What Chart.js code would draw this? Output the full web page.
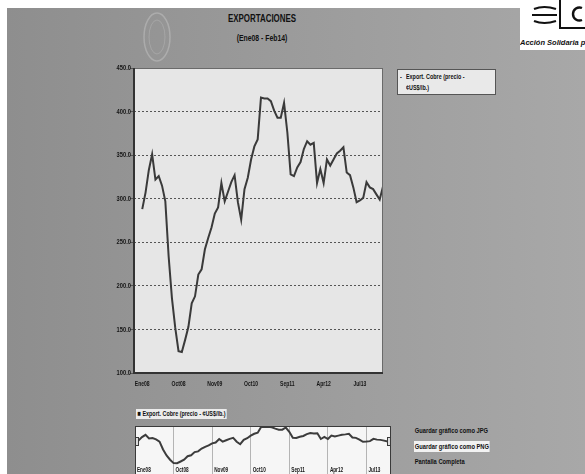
<!DOCTYPE html>
<html>
<head>
<meta charset="utf-8">
<script src="https://cdn.jsdelivr.net/npm/chart.js@4.4.1/dist/chart.umd.min.js"></script>
<style>
body{margin:0;width:585px;height:474px;overflow:hidden;background:#fff;position:relative;
  font-family:"Liberation Sans",Arial,sans-serif;font-weight:bold;color:#111}
#panel{position:absolute;left:7px;top:8px;width:578px;height:466px;
  background:linear-gradient(90deg,#8e8e8e,#9a9a9a 45%,#a8a8a8)}
#logo{position:absolute;left:520px;top:0;width:65px;height:50px;background:#fff;overflow:hidden}
#logo span{position:absolute;left:0;top:38px;font-size:7.5px;font-style:italic;white-space:nowrap}
#seal{position:absolute;left:142px;top:11px}
.t{position:absolute;white-space:nowrap;transform:scaleX(0.72);transform-origin:left center}
#title{left:200px;width:124px;top:12px;text-align:center;font-size:11px;transform-origin:center}
#sub{left:200px;width:124px;top:32px;text-align:center;font-size:9.5px;transform-origin:center}
#legend{position:absolute;left:397px;top:69px;width:97px;height:24px;background:#e9e9e9;border:1px solid #555;
  font-size:7.5px;line-height:11px}
#legend .t{top:1px}
#navlegend{left:136px;top:409px;font-size:7.5px;background:#ececec;padding:0 2px;line-height:10px}
.link{left:414px;font-size:8px;line-height:11px;padding:0 1px}
canvas{position:absolute}
</style>
</head>
<body>
<div id="panel"></div>
<div id="logo">
  <svg width="65" height="38">
    <path d="M14 9 Q24 5 36 9 M12 15 L37 15 M14 21 Q24 25 36 21" stroke="#111" stroke-width="2.2" fill="none"/>
    <rect x="40" y="-2" width="30" height="30" fill="none" stroke="#111" stroke-width="2"/>
    <path d="M62 8 A6.5 6.5 0 1 0 62 20" stroke="#111" stroke-width="2.4" fill="none"/>
  </svg>
  <span>Acción Solidaria para el Desarrollo</span>
</div>
<svg id="seal" width="32" height="54">
  <ellipse cx="15" cy="26" rx="13" ry="24" fill="none" stroke="rgba(255,255,255,0.22)" stroke-width="1.5"/>
  <ellipse cx="15" cy="26" rx="8" ry="17" fill="none" stroke="rgba(255,255,255,0.15)" stroke-width="1"/>
</svg>
<div class="t" id="title">EXPORTACIONES</div>
<div class="t" id="sub">(Ene08 - Feb14)</div>

<canvas id="main" width="585" height="400" style="left:0;top:0"></canvas>
<div id="legend"></div>

<div class="t" id="navlegend"></div>
<canvas id="nav" width="256" height="60" style="left:135px;top:426px"></canvas>

<div class="t link" style="top:425px">Guardar gráfico como JPG</div>
<div class="t link" style="top:441px;background:#f2f2f2">Guardar gráfico como PNG</div>
<div class="t link" style="top:456px">Pantalla Completa</div>

<script>
// precio del cobre, mensual Ene08 - Feb14
const seriesLabel = 'Export. Cobre (precio - ¢US$/lb.)';
const copper = [
  288, 307, 333, 351, 322, 326, 315, 297, 234, 186, 152, 125,
  124, 138, 153, 180, 188, 213, 219, 242, 255, 267, 283, 290,
  318, 297, 308, 319, 327, 296, 276, 311, 324, 345, 360, 368,
  416, 415, 415, 412, 401, 393, 393, 410, 376, 328, 326, 336,
  342, 357, 366, 362, 364, 318, 334, 318, 345, 338, 345, 352,
  355, 359, 330, 327, 313, 296, 298, 301, 319, 313, 311, 305,
  299, 314
];
const tickPos = [0, 11, 22, 33, 44, 55, 66];
const tickLabels = ['Ene08', 'Oct08', 'Nov09', 'Oct10', 'Sep11', 'Apr12', 'Jul13'];
const yTicks = [100, 150, 200, 250, 300, 350, 400, 450];

const points = copper.map((v, i) => ({x: i, y: v}));

// narrow bold text: Liberation Sans squeezed to look like Arial Narrow
function narrow(g, text, x, y, align, size) {
  g.save();
  g.font = 'bold ' + size + 'px "Liberation Sans", Arial, sans-serif';
  g.fillStyle = '#151515';
  g.textAlign = align;
  g.textBaseline = 'middle';
  g.translate(x, y);
  g.scale(0.72, 1);
  g.fillText(text, 0, 0);
  g.restore();
}

// legends from the series label
const cut = seriesLabel.indexOf('¢');
document.getElementById('legend').innerHTML =
  '<div class="t" style="left:2px">-</div>' +
  '<div class="t" style="left:8px">' + seriesLabel.slice(0, cut) + '</div>' +
  '<div class="t" style="left:8px;top:12px">' + seriesLabel.slice(cut) + '</div>';
document.getElementById('navlegend').innerHTML =
  '<span style="font-size:8px">■</span> ' + seriesLabel;

const plotFrame = {
  id: 'plotFrame',
  beforeDraw(c) {
    const a = c.chartArea, g = c.ctx;
    g.save();
    g.fillStyle = '#e6e6e6';
    g.fillRect(a.left, a.top, a.right - a.left, a.bottom - a.top);
    g.restore();
  },
  afterDraw(c) {
    const a = c.chartArea, g = c.ctx;
    g.save();
    g.strokeStyle = '#6a6a6a';
    g.lineWidth = 1;
    g.strokeRect(a.left + 0.5, a.top + 0.5, a.right - a.left - 1, a.bottom - a.top);
    g.strokeStyle = '#333';
    g.lineWidth = 2;
    g.beginPath();
    g.moveTo(a.left, a.top);
    g.lineTo(a.left, a.bottom);
    g.lineTo(a.right, a.bottom);
    g.stroke();
    g.restore();
    const xs = c.scales.x, ys = c.scales.y;
    xs.ticks.forEach((t, i) => narrow(g, tickLabels[i], xs.getPixelForValue(t.value), a.bottom + 11, 'center', 7));
    ys.ticks.forEach(t => narrow(g, t.value.toFixed(1), a.left - 3, ys.getPixelForValue(t.value), 'right', 8));
  }
};

new Chart(document.getElementById('main'), {
  type: 'line',
  data: {datasets: [{label: seriesLabel, data: points, borderColor: '#3a3a3a', borderWidth: 2,
    pointRadius: 0, tension: 0}]},
  options: {
    responsive: false,
    animation: false,
    layout: {padding: {left: 94, right: 202, top: 68, bottom: 7}},
    plugins: {legend: {display: false}, tooltip: {enabled: false}},
    scales: {
      x: {
        type: 'linear', min: -2.5, max: 73,
        afterBuildTicks: s => { s.ticks = tickPos.map(v => ({value: v})); },
        afterFit: s => { s.height = 20; },
        grid: {display: false},
        border: {display: false},
        ticks: {display: false}
      },
      y: {
        min: 100, max: 450,
        afterBuildTicks: s => { s.ticks = yTicks.map(v => ({value: v})); },
        afterFit: s => { s.width = 40; },
        grid: {color: '#555', lineWidth: 1, tickLength: 4},
        border: {display: false, dash: [2, 2]},
        ticks: {display: false}
      }
    }
  },
  plugins: [plotFrame]
});

const navFrame = {
  id: 'navFrame',
  beforeDraw(c) {
    const g = c.ctx;
    g.save();
    g.fillStyle = '#f6f6f6';
    g.fillRect(0, 0, c.width, c.height);
    g.restore();
  },
  afterDraw(c) {
    const g = c.ctx, w = c.width, xs = c.scales.x;
    g.save();
    g.strokeStyle = '#3a3a3a';
    g.lineWidth = 1;
    g.strokeRect(0.5, 0.5, w - 1, c.height);
    g.fillStyle = '#ddd';
    [0, w - 4].forEach(x => {
      g.fillRect(x, 11, 4, 9);
      g.strokeRect(x + 0.5, 11.5, 3, 8);
    });
    g.restore();
    xs.ticks.forEach((t, i) => narrow(g, tickLabels[i], xs.getPixelForValue(t.value) + 2, 44, 'left', 6.5));
  }
};

new Chart(document.getElementById('nav'), {
  type: 'line',
  data: {datasets: [{label: seriesLabel, data: points, borderColor: '#3c3c3c', borderWidth: 2,
    pointRadius: 0, tension: 0}]},
  options: {
    responsive: false,
    animation: false,
    layout: {padding: 0},
    plugins: {legend: {display: false}, tooltip: {enabled: false}},
    scales: {
      x: {
        type: 'linear', min: 0, max: 73,
        afterBuildTicks: s => { s.ticks = tickPos.map(v => ({value: v})); },
        afterFit: s => { s.height = 21; },
        grid: {color: '#b4b4b4', lineWidth: 1, tickLength: 21},
        border: {display: false},
        ticks: {display: false}
      },
      y: {display: false, min: 110, max: 422}
    }
  },
  plugins: [navFrame]
});
</script>
</body>
</html>
